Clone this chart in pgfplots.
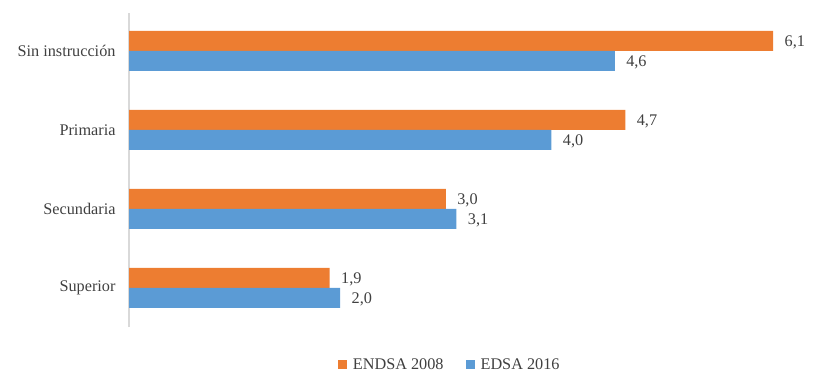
\documentclass[border=0pt]{standalone}
\usepackage{pgfplots}
\pgfplotsset{compat=1.18}
\usepackage{fontspec}
\setmainfont{Liberation Serif}
\definecolor{cOr}{HTML}{ED7D31}
\definecolor{cBl}{HTML}{5B9BD5}
\definecolor{cTx}{HTML}{404040}
\definecolor{cAx}{HTML}{D9D9D9}
\begin{document}
\begin{tikzpicture}
\path[use as bounding box] (0,0) rectangle (835bp,385bp);
\begin{axis}[
  at={(129bp,58bp)}, anchor=south west,
  scale only axis, width=671bp, height=314bp,
  xmin=0, xmax=6.354, ymin=-0.494, ymax=3.48,
  axis x line=none,
  axis y line*=left,
  y axis line style={draw=cAx, line width=2bp},
  ytick={0,1,2,3},
  yticklabels={Superior,Secundaria,Primaria,Sin instrucción},
  major tick length=0pt,
  yticklabel style={font=\fontsize{16.3}{19}\selectfont, text=cTx, xshift=-10bp},
  xbar, bar width=20bp,
  /pgf/number format/assume math mode=true,
  /pgf/number format/.cd, use comma, fixed, fixed zerofill, precision=1, /pgfplots/.cd,
  nodes near coords,
  nodes near coords style={font=\fontsize{16.3}{19}\selectfont, text=cTx, xshift=8bp, yshift=-1bp},
  legend style={at={(0.478,-0.121)}, anchor=center, draw=none, legend columns=2,
    font=\fontsize{16.3}{19}\selectfont, text=cTx,
    /tikz/every even column/.append style={column sep=20bp},
    /tikz/every odd column/.append style={column sep=4bp}},
  legend image code/.code={\fill[#1] (0bp,-4.5bp) rectangle (9bp,4.5bp);},
]
\addplot[fill=cOr, draw=none, bar shift=10bp] coordinates {(1.9,0) (3.0,1) (4.7,2) (6.1,3)};
\addlegendentry{ENDSA 2008}
\addplot[fill=cBl, draw=none, bar shift=-10bp] coordinates {(2.0,0) (3.1,1) (4.0,2) (4.6,3)};
\addlegendentry{EDSA 2016}
\end{axis}
\end{tikzpicture}
\end{document}
